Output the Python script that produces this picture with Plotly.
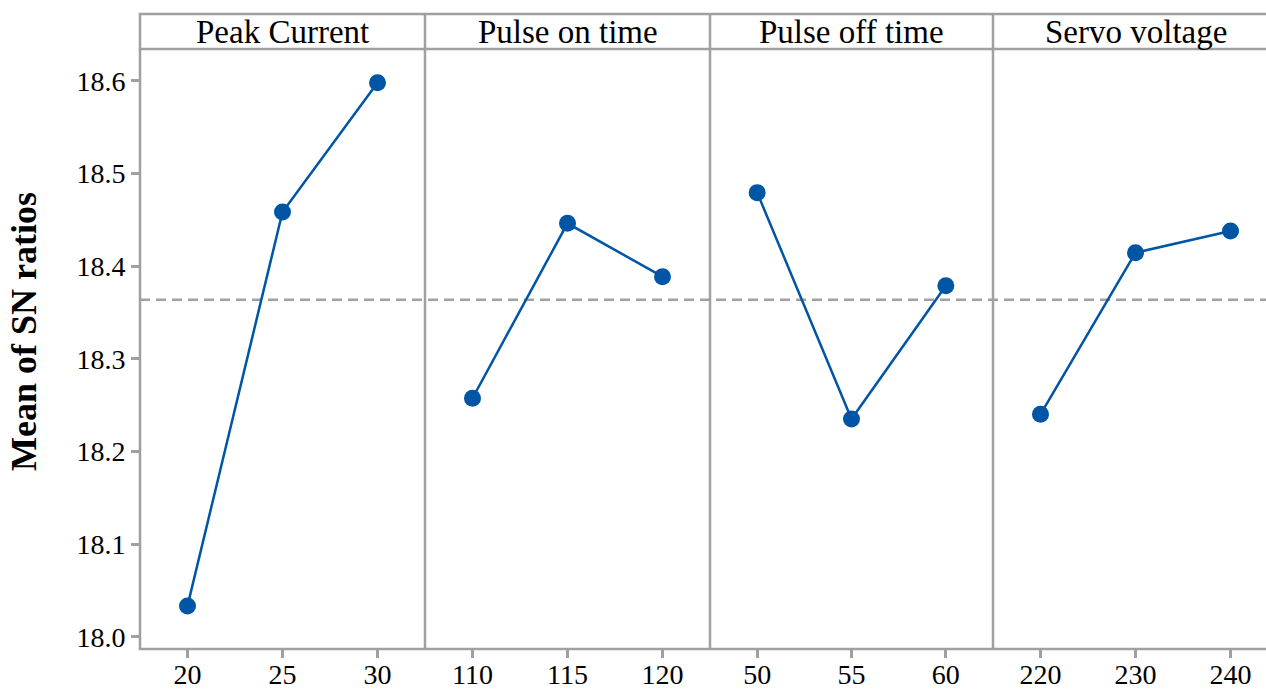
import plotly.graph_objects as go

# ---------------- data ----------------
factors = ["Peak Current", "Pulse on time", "Pulse off time", "Servo voltage"]
levels = [
    ["20", "25", "30"],
    ["110", "115", "120"],
    ["50", "55", "60"],
    ["220", "230", "240"],
]
sn_means = [
    [18.0335, 18.4586, 18.5980],
    [18.2576, 18.4464, 18.3888],
    [18.4795, 18.2353, 18.3791],
    [18.2403, 18.4147, 18.4381],
]
grand_mean = 18.364
y_ticks = [18.0, 18.1, 18.2, 18.3, 18.4, 18.5, 18.6]
y_title = "Mean of SN ratios"

# ---------------- layout geometry (pixels) ----------------
W, H = 1266, 690
L, R, T, B = 140, 0, 49, 41
plot_w = W - L - R
plot_h = H - T - B
panel_px = [0, 285, 570, 853, 1138]  # panel edges relative to plot-left; last one beyond view
header_h = 35

FONT = "Liberation Serif"
BLUE = "#0055A5"
GRAY = "#A0A0A0"

fig = go.Figure()

def px2paper_x(p):
    return p / plot_w

for i in range(4):
    d0 = px2paper_x(panel_px[i])
    d1 = min(1.0, px2paper_x(panel_px[i + 1]))
    full_w = panel_px[i + 1] - panel_px[i]
    vis_w = min(panel_px[i + 1], plot_w) - panel_px[i]
    xr = [-0.5, -0.5 + 3.0 * vis_w / full_w]
    xa = "xaxis" if i == 0 else f"xaxis{i+1}"
    ya = "yaxis" if i == 0 else f"yaxis{i+1}"
    xref = "x" if i == 0 else f"x{i+1}"
    yref = "y" if i == 0 else f"y{i+1}"
    fig.add_trace(go.Scatter(
        x=levels[i], y=sn_means[i], mode="lines+markers",
        line=dict(color=BLUE, width=2.5),
        marker=dict(color=BLUE, size=17),
        xaxis=xref, yaxis=yref, showlegend=False, cliponaxis=False,
    ))
    fig.update_layout({
        xa: dict(domain=[d0, d1], type="category", range=xr, showgrid=False,
                 zeroline=False, showline=False, ticks="outside", ticklen=8,
                 tickwidth=2.5, tickcolor=GRAY, anchor=yref, automargin=False,
                 ticklabelstandoff=-8,
                 tickfont=dict(family=FONT, size=28, color="black")),
        ya: dict(domain=[0, 1], range=[17.987, 18.6345], showgrid=False,
                 zeroline=False, showline=False, anchor=xref, automargin=False,
                 tickvals=y_ticks if i == 0 else [],
                 ticktext=[f"{v:.1f}" for v in y_ticks] if i == 0 else [],
                 ticks="outside" if i == 0 else "", ticklen=8, tickwidth=2.5,
                 tickcolor=GRAY,
                 tickfont=dict(family=FONT, size=28, color="black")),
    })

shapes = []
top = 1 + header_h / plot_h
line = dict(color=GRAY, width=2.5)
# horizontal borders
for yv in (0, 1, top):
    shapes.append(dict(type="line", xref="paper", yref="paper",
                       x0=-1.2 / plot_w, x1=1, y0=yv, y1=yv, line=line))
# vertical borders
for p in panel_px[:4]:
    xv = px2paper_x(p)
    shapes.append(dict(type="line", xref="paper", yref="paper",
                       x0=xv, x1=xv, y0=0, y1=top, line=line))
# dashed grand-mean line
shapes.append(dict(type="line", xref="paper", yref="y", x0=0, x1=1,
                   y0=grand_mean, y1=grand_mean,
                   line=dict(color=GRAY, width=2.5, dash="10px,6px"),
                   layer="below"))

annotations = []
for i, name in enumerate(factors):
    cx = px2paper_x((panel_px[i] + panel_px[i + 1]) / 2)
    annotations.append(dict(text=name, x=cx, y=1 + header_h / 2 / plot_h,
                            xref="paper", yref="paper", showarrow=False,
                            xanchor="center", yanchor="middle",
                            font=dict(family=FONT, size=33, color="black")))
annotations.append(dict(text=f"<b>{y_title}</b>", x=px2paper_x(24 - L),
                        y=(H - B - 332) / plot_h, xref="paper", yref="paper",
                        showarrow=False, textangle=-90,
                        xanchor="center", yanchor="middle",
                        font=dict(family=FONT, size=36, color="black")))

fig.update_layout(
    width=W, height=H, margin=dict(l=L, r=R, t=T, b=B, autoexpand=False),
    plot_bgcolor="white", paper_bgcolor="white",
    shapes=shapes, annotations=annotations,
)

fig.write_html("out.html", config={"displayModeBar": False},
               post_script="document.body.style.margin='0';document.body.style.overflow='hidden';")
